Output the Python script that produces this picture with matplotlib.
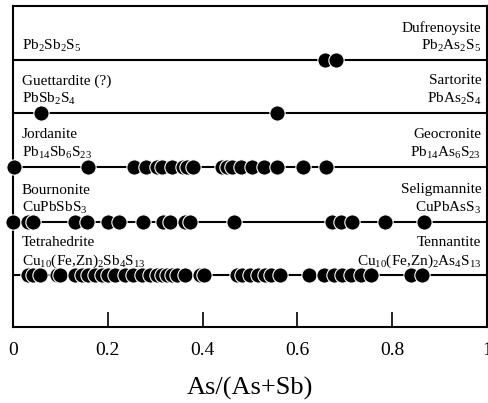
import matplotlib
matplotlib.use("Agg")
import matplotlib.pyplot as plt

plt.rcParams['font.family'] = ['Liberation Serif', 'DejaVu Serif']
plt.rcParams['mathtext.fontset'] = 'custom'
plt.rcParams['mathtext.rm'] = 'Liberation Serif'
plt.rcParams['mathtext.default'] = 'regular'

# As/(As+Sb) values, one list per series
dufrenoysite = [0.659, 0.682]
sartorite = [0.059, 0.558]
jordanite = [0.002, 0.158, 0.255, 0.280, 0.303, 0.314, 0.335, 0.358, 0.368, 0.379,
             0.440, 0.451, 0.461, 0.482, 0.505, 0.530, 0.556, 0.611, 0.661]
bournonite = [0.0, 0.032, 0.042, 0.131, 0.156, 0.200, 0.223, 0.274, 0.316, 0.331,
              0.362, 0.373, 0.467, 0.674, 0.693, 0.716, 0.784, 0.867]
tetrahedrite = [0.032, 0.042, 0.057, 0.093, 0.099, 0.131, 0.145, 0.158, 0.173, 0.187,
                0.200, 0.215, 0.236, 0.253, 0.272, 0.288, 0.303, 0.314, 0.324, 0.335,
                0.345, 0.362, 0.394, 0.404, 0.472, 0.484, 0.499, 0.516, 0.531, 0.545,
                0.564, 0.625, 0.657, 0.678, 0.695, 0.714, 0.735, 0.756, 0.840, 0.863]

left_labels = [
    ['', r'Pb$_2$Sb$_2$S$_5$'],
    ['Guettardite (?)', r'PbSb$_2$S$_4$'],
    ['Jordanite', r'Pb$_{14}$Sb$_6$S$_{23}$'],
    ['Bournonite', r'CuPbSbS$_3$'],
    ['Tetrahedrite', r'Cu$_{10}$(Fe,Zn)$_2$Sb$_4$S$_{13}$'],
]
right_labels = [
    ['Dufrenoysite', r'Pb$_2$As$_2$S$_5$'],
    ['Sartorite', r'PbAs$_2$S$_4$'],
    ['Geocronite', r'Pb$_{14}$As$_6$S$_{23}$'],
    ['Seligmannite', r'CuPbAsS$_3$'],
    ['Tennantite', r'Cu$_{10}$(Fe,Zn)$_2$As$_4$S$_{13}$'],
]
series = [dufrenoysite, sartorite, jordanite, bournonite, tetrahedrite]
xticks = [0, 0.2, 0.4, 0.6, 0.8, 1]
xticklabels = ['0', '0.2', '0.4', '0.6', '0.8', '1']

# layout: row line positions (pixel-like units from top)
row_y = [60, 113, 167, 222, 275]

fig = plt.figure(figsize=(4.88, 4.03), dpi=100)
ax = fig.add_axes([13/488, (403-327)/403, 474/488, 321/403])
ax.set_xlim(0, 1)
ax.set_ylim(327, 6)

for vals, y in zip(series, row_y):
    ax.plot([0, 1], [y, y], color='black', lw=1.5, zorder=2, clip_on=False)
    for v in sorted(vals):
        ax.plot([v], [y], 'o', ms=11, mfc='black', mec='white', mew=0.8,
                zorder=3, clip_on=False)

for (l1, l2), (r1, r2), y in zip(left_labels, right_labels, row_y):
    if l1:
        ax.text(0.019, y - 32, l1, fontsize=11, ha='left', va='center')
    ax.text(0.019, y - 14, l2, fontsize=11, ha='left', va='center')
    ax.text(0.988, y - 32, r1, fontsize=11, ha='right', va='center')
    ax.text(0.988, y - 14, r2, fontsize=11, ha='right', va='center')

ax.set_yticks([])
ax.set_xticks(xticks)
ax.set_xticklabels(xticklabels, fontsize=14)
ax.tick_params(axis='x', direction='in', length=10.5, width=1.2, pad=11)
for s in ax.spines.values():
    s.set_linewidth(1.5)
ax.set_xlabel('As/(As+Sb)', fontsize=19, labelpad=13)

fig.savefig('out.png', dpi=100)
